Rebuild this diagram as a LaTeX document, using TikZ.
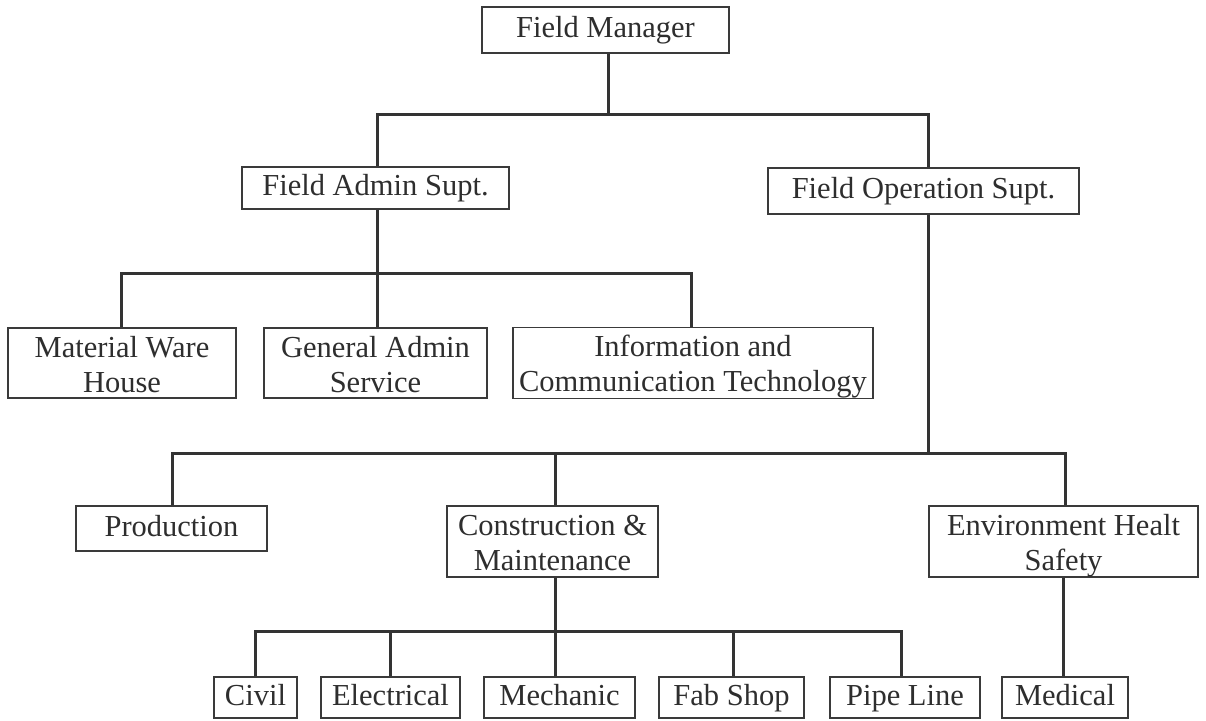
\documentclass[tikz,border=0pt]{standalone}
\usepackage{fontspec}
\setmainfont{Liberation Serif}
\definecolor{boxgray}{HTML}{3A3A3A}
\definecolor{linegray}{HTML}{333333}
\definecolor{textgray}{HTML}{2E2E2E}
% struts that fix the vertical placement of one- and two-line labels
\newcommand\onelinestrut{\rule[-7pt]{0pt}{29pt}}
\newcommand\firstlinestrut{\rule{0pt}{29pt}}
\newcommand\lastlinestrut{\rule[-6pt]{0pt}{6pt}}
\begin{document}
\begin{tikzpicture}[x=1pt,y=-1pt,
  box/.style={draw=boxgray, line width=1.4pt, fill=white, inner sep=0pt,
    align=center, text=textgray, font=\fontsize{30.5}{35}\selectfont},
  conn/.style={draw=linegray, line width=3pt}]
\useasboundingbox[fill=white] (0,0) rectangle (1206,720);

% ---- boxes ----
\node[box, minimum width=247pt, minimum height=46pt] (fm)  at (605.5,30)  {\onelinestrut Field Manager};
\node[box, minimum width=267pt, minimum height=42pt] (fas) at (375.5,188) {\onelinestrut Field Admin Supt.};
\node[box, minimum width=311pt, minimum height=46pt] (fos) at (923.5,191) {\onelinestrut Field Operation Supt.};

\node[box, minimum width=228pt, minimum height=70pt] (mwh) at (122,363)   {\firstlinestrut Material Ware\\House\lastlinestrut};
\node[box, minimum width=223pt, minimum height=70pt] (gas) at (375.5,363) {\firstlinestrut General Admin\\Service\lastlinestrut};
\node[box, minimum width=360pt, minimum height=70pt] (ict) at (693,363)   {\firstlinestrut Information and\\Communication Technology\lastlinestrut};

\node[box, minimum width=191pt, minimum height=45pt] (prod) at (171.5,528.5) {\onelinestrut Production};
\node[box, minimum width=211pt, minimum height=71pt] (cm)   at (552.5,541.5) {\firstlinestrut Construction \&\\Maintenance\lastlinestrut};
\node[box, minimum width=269pt, minimum height=71pt] (ehs)  at (1063.5,541.5) {\firstlinestrut Environment Healt\\Safety\lastlinestrut};

\node[box, minimum width=83pt,  minimum height=41pt] (civ)  at (255.5,697.5) {\onelinestrut Civil};
\node[box, minimum width=139pt, minimum height=41pt] (elec) at (390.5,697.5) {\onelinestrut Electrical};
\node[box, minimum width=151pt, minimum height=41pt] (mech) at (559.5,697.5) {\onelinestrut Mechanic};
\node[box, minimum width=145pt, minimum height=41pt] (fab)  at (731.5,697.5) {\onelinestrut Fab Shop};
\node[box, minimum width=150pt, minimum height=41pt] (pipe) at (905,697.5)   {\onelinestrut Pipe Line};
\node[box, minimum width=126pt, minimum height=41pt] (med)  at (1065,697.5)  {\onelinestrut Medical};

% ---- connector attachment points ----
\coordinate (fmS)   at ([xshift=2.5pt]fm.south);
\coordinate (fasN)  at ([xshift=1.5pt]fas.north);
\coordinate (fasS)  at ([xshift=1.5pt]fas.south);
\coordinate (fosN)  at ([xshift=4.5pt]fos.north);
\coordinate (fosS)  at ([xshift=4.5pt]fos.south);
\coordinate (mwhN)  at ([xshift=-1pt]mwh.north);
\coordinate (gasN)  at ([xshift=1.5pt]gas.north);
\coordinate (ictN)  at ([xshift=-2pt]ict.north);
\coordinate (prodN) at ([xshift=0.5pt]prod.north);
\coordinate (cmN)   at ([xshift=2.5pt]cm.north);
\coordinate (cmS)   at ([xshift=2.5pt]cm.south);
\coordinate (ehsN)  at ([xshift=1.5pt]ehs.north);
\coordinate (mechN) at ([xshift=-4.5pt]mech.north);
\coordinate (fabN)  at ([xshift=1.5pt]fab.north);
\coordinate (pipeN) at ([xshift=-4pt]pipe.north);

% bus levels
\coordinate (busA) at (0,114);
\coordinate (busB) at (0,273);
\coordinate (busC) at (0,453);
\coordinate (busD) at (0,631);

% ---- connectors ----
\draw[conn] (fmS) -- (fmS |- busA);
\draw[conn] (fasN) |- (fosN |- busA) -- (fosN);

\draw[conn] (fasS) -- (fasS |- busB);
\draw[conn] (mwhN) |- (ictN |- busB) -- (ictN);
\draw[conn] (gasN) -- (gasN |- busB);

\draw[conn] (fosS) -- (fosS |- busC);
\draw[conn] (prodN) |- (ehsN |- busC) -- (ehsN);
\draw[conn] (cmN) -- (cmN |- busC);

\draw[conn] (cmS) -- (cmS |- busD);
\draw[conn] (civ.north) |- (pipeN |- busD) -- (pipeN);
\draw[conn] (elec.north) -- (elec.north |- busD);
\draw[conn] (mechN) -- (mechN |- busD);
\draw[conn] (fabN) -- (fabN |- busD);

\draw[conn] (ehs.south) -- (ehs.south |- med.north);
\end{tikzpicture}
\end{document}
